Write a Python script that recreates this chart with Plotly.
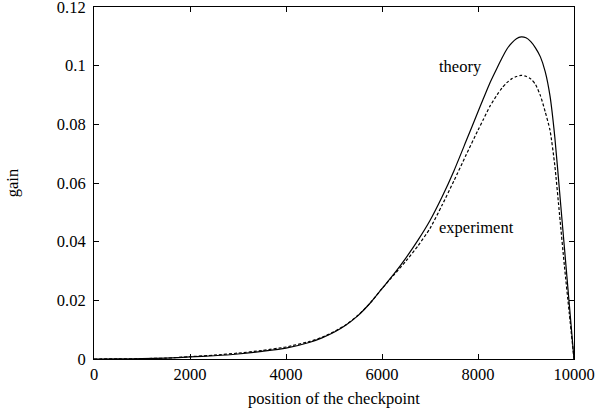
import plotly.graph_objects as go

# Gain as a function of checkpoint position
position = [0, 500, 1000, 1500, 2000, 2500, 3000, 3500, 4000, 4500, 4750, 5000,
            5250, 5500, 5750, 6000, 6250, 6500, 6750, 7000, 7250, 7500, 7750,
            8000, 8100, 8250, 8400, 8500, 8600, 8700, 8800, 8900, 9000, 9100,
            9200, 9300, 9400, 9500, 9600, 9700, 9800, 9900, 10000]
theory = [0, 0.00002, 0.0001, 0.0003, 0.0007, 0.0011, 0.0017, 0.0026, 0.0037,
          0.0057, 0.0072, 0.0091, 0.0116, 0.0148, 0.019, 0.024, 0.029, 0.0345,
          0.0405, 0.0472, 0.0552, 0.0642, 0.0742, 0.0843, 0.0883, 0.0942, 0.0993,
          0.1026, 0.1056, 0.1077, 0.1092, 0.1098, 0.1095, 0.1082, 0.1060, 0.1030,
          0.0980, 0.0897, 0.0757, 0.0570, 0.0380, 0.0190, 0]
experiment = [0, 0.00003, 0.00012, 0.0003, 0.0008, 0.0013, 0.002, 0.0029, 0.0041,
              0.006, 0.0074, 0.0093, 0.0117, 0.0149, 0.019, 0.024, 0.0287, 0.0334,
              0.0386, 0.0445, 0.0524, 0.0608, 0.0695, 0.078, 0.0813, 0.0862,
              0.0901, 0.0924, 0.0942, 0.0955, 0.0963, 0.0967, 0.0964, 0.0955,
              0.0935, 0.0898, 0.0843, 0.0780, 0.0660, 0.0490, 0.0318, 0.0158, 0]

x_ticks = [0, 2000, 4000, 6000, 8000, 10000]
x_tick_labels = ["0", "2000", "4000", "6000", "8000", "10000"]
y_ticks = [0, 0.02, 0.04, 0.06, 0.08, 0.1, 0.12]
y_tick_labels = ["0", "0.02", "0.04", "0.06", "0.08", "0.1", "0.12"]

font = "Liberation Serif"
fsize = 16.5

fig = go.Figure()
fig.add_trace(go.Scatter(x=position, y=theory, mode="lines", name="theory",
                         line=dict(color="black", width=1.2, shape="spline",
                                   smoothing=0.6)))
fig.add_trace(go.Scatter(x=position, y=experiment, mode="lines", name="experiment",
                         line=dict(color="black", width=1.2, dash="3px,2px",
                                   shape="spline", smoothing=0.6)))

fig.add_annotation(x=7140, y=0.0998, text="theory", showarrow=False,
                   xanchor="left", font=dict(family=font, size=fsize, color="black"))
fig.add_annotation(x=7140, y=0.0448, text="experiment", showarrow=False,
                   xanchor="left", font=dict(family=font, size=fsize, color="black"))

axis_common = dict(showline=True, linecolor="black", linewidth=1, mirror="ticks",
                   ticks="inside", ticklen=5, tickcolor="black", tickwidth=1,
                   showgrid=False, zeroline=False, automargin=False,
                   ticklabeloverflow="allow",
                   tickfont=dict(family=font, size=fsize, color="black"))

fig.update_xaxes(range=[0, 10000], tickvals=x_ticks, ticktext=x_tick_labels,
                 title=dict(text="position of the checkpoint", standoff=9,
                            font=dict(family=font, size=fsize, color="black")),
                 **axis_common)
fig.update_yaxes(range=[0, 0.12], tickvals=y_ticks, ticktext=y_tick_labels,
                 ticklabelstandoff=4,
                 title=dict(text="gain", standoff=34,
                            font=dict(family=font, size=fsize, color="black")),
                 **axis_common)

fig.update_layout(width=597, height=416, showlegend=False,
                  margin=dict(l=94, r=23, t=7, b=57, autoexpand=False),
                  plot_bgcolor="white", paper_bgcolor="white")

fig.write_html("out.html")
